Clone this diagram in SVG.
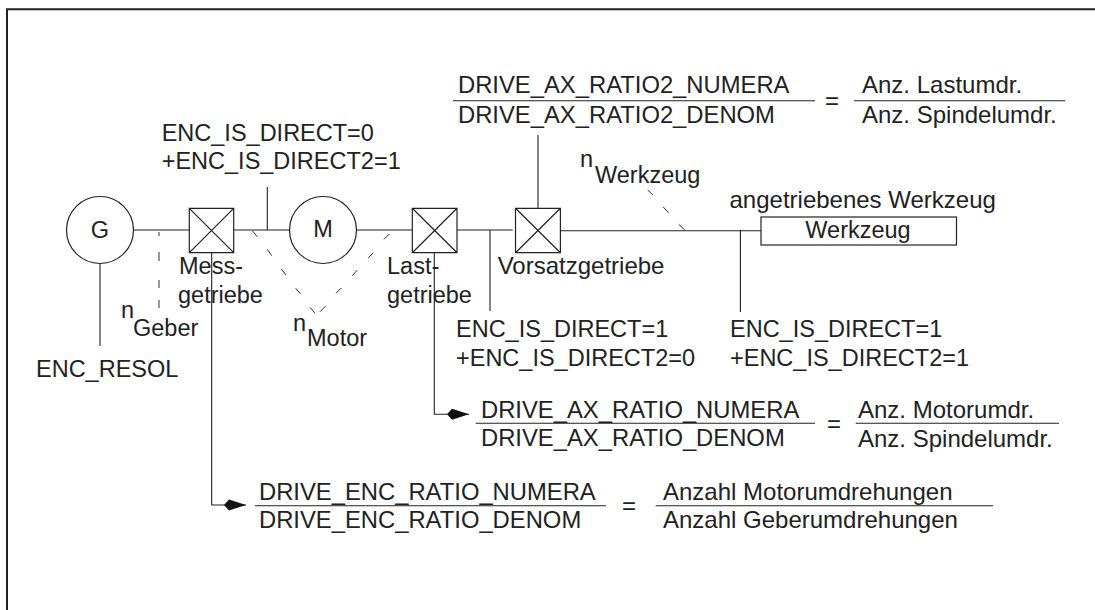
<svg xmlns="http://www.w3.org/2000/svg" width="1095" height="610" viewBox="0 0 1095 610">
<style>
text{font-family:"Liberation Sans",Arial,sans-serif;font-size:23.5px;fill:#222}
.f text,text.b{font-size:24px}
.f text.v{font-size:23.8px}
.l{fill:none;stroke:#222;stroke-width:1.1}
.d{fill:none;stroke:#333;stroke-width:1}
.s{fill:#fff;stroke:#222;stroke-width:1.2}
</style>
<defs><marker id="a" markerUnits="userSpaceOnUse" markerWidth="24" markerHeight="12" refX="22" refY="6" orient="auto"><path d="M0 6L5 .5L22 6L5 11.5Z" fill="#111"/></marker></defs>
<rect width="1095" height="610" fill="#fff"/>
<path d="M7 610V9.300H1095" fill="none" stroke="#222" stroke-width="2"/>
<g id="connectors">
<path class="l" d="M133 230H189M234 230H290M356 230H412M457 230H512.700M560 230.700H761"/>
<path class="l" d="M100 264V346M267.300 187V230M490 230V311M538 135V208M740.400 230V312"/>
<path class="l" d="M211.700 252V505H246" marker-end="url(#a)"/>
<path class="l" d="M434.300 252V414.300H469" marker-end="url(#a)"/>
<path class="d" d="M159 232V236M159 252V261M159 280V288M159 300V308"/>
<path class="d" d="M252.300 230.700L257.300 236.700M267.300 249.300L271.700 255.700M281.300 269L286 275M295.700 288.300L300.700 294M310 307.300L315 313.300"/>
<path class="d" d="M389.300 234L384 239.300M373.300 252.700L368.300 257.700M357.300 270L352.300 275.700M341.300 288L336 293.300M325.700 306L320 311.700"/>
<path class="d" d="M647.700 190L652.900 195M663 206.700L668.600 212.700M678.700 224.300L684.800 230"/>
</g>
<g id="node-g"><circle class="s" cx="100" cy="230" r="33.500"/><text x="100" y="238" text-anchor="middle">G</text></g>
<g id="node-mess"><path class="s" d="M189.300 208.300H233.700V252.700H189.300ZM189.300 208.300L233.700 252.700M233.700 208.300L189.300 252.700"/><text x="179" y="274">Mess-</text><text x="178" y="303">getriebe</text></g>
<g id="node-m"><circle class="s" cx="323" cy="230" r="33.500"/><text x="323" y="237" text-anchor="middle">M</text></g>
<g id="node-last"><path class="s" d="M412.300 208.300H457V252.700H412.300ZM412.300 208.300L457 252.700M457 208.300L412.300 252.700"/><text x="387" y="274">Last-</text><text x="387" y="303">getriebe</text></g>
<g id="node-vorsatz"><path class="s" d="M515.500 208.300H560.400V252.700H515.500ZM515.500 208.300L560.400 252.700M560.400 208.300L515.500 252.700"/><text class="b" x="497.700" y="274">Vorsatzgetriebe</text></g>
<g id="node-werkzeug"><rect class="s" x="761" y="217" width="195.500" height="28"/><text x="858" y="238" text-anchor="middle">Werkzeug</text><text class="b" x="729.500" y="207.700">angetriebenes Werkzeug</text></g>
<g id="labels">
<text x="161.700" y="141">ENC_IS_DIRECT=0</text><text x="161.700" y="169.300">+ENC_IS_DIRECT2=1</text>
<text x="36" y="376.700">ENC_RESOL</text>
<text x="121" y="318">n</text><text x="133" y="336">Geber</text>
<text x="293" y="331">n</text><text x="307" y="346">Motor</text>
<text x="580" y="167">n</text><text x="595" y="182.700">Werkzeug</text>
<text x="456" y="337">ENC_IS_DIRECT=1</text><text x="456" y="365.700">+ENC_IS_DIRECT2=0</text>
<text x="730" y="337">ENC_IS_DIRECT=1</text><text x="730" y="365.700">+ENC_IS_DIRECT2=1</text>
</g>
<g id="fraction-ratio2" class="f">
<path class="l" d="M453 100.700H815M854 100.700H1065"/>
<text class="v" x="458" y="93">DRIVE_AX_RATIO2_NUMERA</text><text class="v" x="458" y="122.700">DRIVE_AX_RATIO2_DENOM</text>
<text x="832" y="109" text-anchor="middle">=</text>
<text x="862" y="93">Anz. Lastumdr.</text><text x="862" y="122.700">Anz. Spindelumdr.</text>
</g>
<g id="fraction-ax" class="f">
<path class="l" d="M475.700 423.300H815M855.700 423.300H1059"/>
<text class="v" x="481" y="418">DRIVE_AX_RATIO_NUMERA</text><text class="v" x="481" y="446">DRIVE_AX_RATIO_DENOM</text>
<text x="834" y="431.500" text-anchor="middle">=</text>
<text x="858" y="418">Anz. Motorumdr.</text><text x="858" y="446.700">Anz. Spindelumdr.</text>
</g>
<g id="fraction-enc" class="f">
<path class="l" d="M255 505.700H606M655.700 505.700H993"/>
<text class="v" x="259" y="500">DRIVE_ENC_RATIO_NUMERA</text><text class="v" x="259" y="528">DRIVE_ENC_RATIO_DENOM</text>
<text x="629" y="514" text-anchor="middle">=</text>
<text x="663" y="500">Anzahl Motorumdrehungen</text><text x="663" y="528">Anzahl Geberumdrehungen</text>
</g>
</svg>
